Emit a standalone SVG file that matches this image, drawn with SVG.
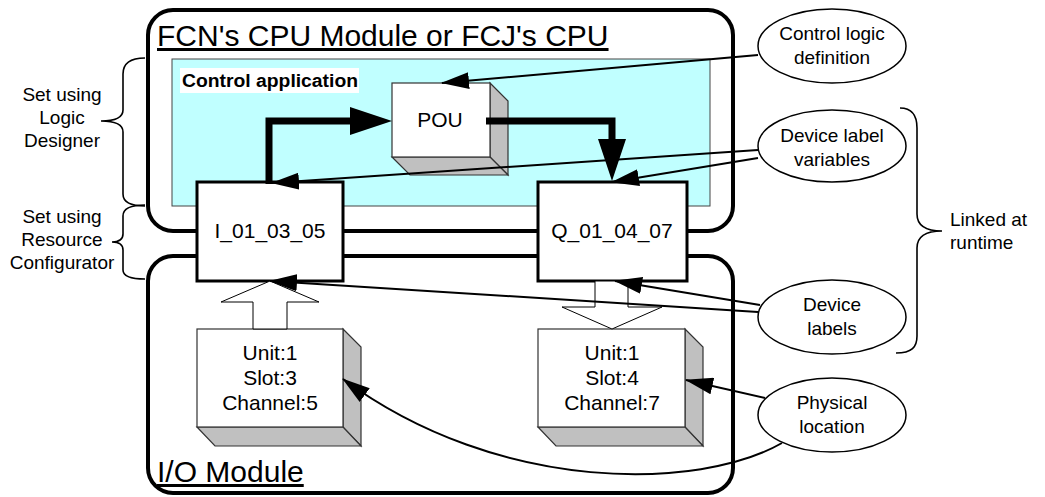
<svg xmlns="http://www.w3.org/2000/svg" width="1045" height="497" viewBox="0 0 1045 497">
<style>
text{font-family:"Liberation Sans",Arial,sans-serif;fill:#000}
.t19{font-size:19px}
.t21{font-size:21px}
.mid{text-anchor:middle}
.module{fill:none;stroke:#000;stroke-width:4}
.box{fill:#fff;stroke:#000;stroke-width:3}
.front{fill:#fff;stroke:#333;stroke-width:1.2}
.shade{fill:#c0c0c0;stroke:#333;stroke-width:1.2}
.ell{fill:#fff;stroke:#000;stroke-width:1.5}
.thin{fill:none;stroke:#000;stroke-width:2;marker-end:url(#ah)}
.thick{fill:none;stroke:#000;stroke-width:7;stroke-linejoin:miter;marker-end:url(#bh)}
.hollow{fill:#fff;stroke:#000;stroke-width:1}
.brace{fill:none;stroke:#000;stroke-width:1.6}
</style>
<defs>
<marker id="ah" markerUnits="userSpaceOnUse" viewBox="0 0 28 17" markerWidth="28" markerHeight="17" refX="27" refY="8.5" orient="auto"><path d="M0,0 L28,8.5 L0,17 z" fill="#000"/></marker>
<marker id="bh" markerUnits="userSpaceOnUse" viewBox="0 0 42 28" markerWidth="42" markerHeight="28" refX="0" refY="14" orient="auto"><path d="M0,0 L42,14 L0,28 z" fill="#000"/></marker>
</defs>

<g id="cpu-module">
<rect class="module" x="148" y="10" width="585" height="221" rx="25"/>
<text x="157" y="46" style="font-size:30px;text-decoration:underline">FCN's CPU Module or FCJ's CPU</text>
</g>
<g id="io-module">
<rect class="module" x="148" y="256" width="585" height="237" rx="25"/>
<text x="157" y="482" style="font-size:30px;text-decoration:underline">I/O Module</text>
</g>
<g id="control-application">
<rect x="172" y="59" width="538" height="147" fill="#c0ffff" stroke="#444" stroke-width="1"/>
<rect x="180" y="68" width="179" height="25" fill="#fff"/>
<text x="182" y="87" style="font-size:18px;font-weight:bold" textLength="176" lengthAdjust="spacingAndGlyphs">Control application</text>
</g>
<g id="pou">
<polygon class="shade" points="490,83 508,101 508,175 490,157"/>
<polygon class="shade" points="392,157 490,157 508,175 410,175"/>
<rect class="front" x="392" y="83" width="98" height="74"/>
<text class="t21 mid" x="440" y="127">POU</text>
</g>
<g id="i-label">
<rect class="box" x="197" y="182" width="146" height="99"/>
<text class="t21 mid" x="270" y="238">I_01_03_05</text>
</g>
<g id="q-label">
<rect class="box" x="538" y="182" width="149" height="99"/>
<text class="t21 mid" x="612" y="238">Q_01_04_07</text>
</g>
<g id="unit-slot3">
<polygon class="shade" points="343,329 361,347 361,446 343,427"/>
<polygon class="shade" points="197,427 343,427 361,446 215,446"/>
<rect class="front" x="197" y="329" width="146" height="98"/>
<text class="t21 mid" x="270" y="360">Unit:1</text>
<text class="t21 mid" x="270" y="385">Slot:3</text>
<text class="t21 mid" x="270" y="410">Channel:5</text>
</g>
<g id="unit-slot4">
<polygon class="shade" points="685,329 703,347 703,446 685,427"/>
<polygon class="shade" points="538,427 685,427 703,446 556,446"/>
<rect class="front" x="538" y="329" width="147" height="98"/>
<text class="t21 mid" x="612" y="360">Unit:1</text>
<text class="t21 mid" x="612" y="385">Slot:4</text>
<text class="t21 mid" x="612" y="410">Channel:7</text>
</g>
<g id="control-logic-definition">
<ellipse class="ell" cx="832" cy="46" rx="74" ry="37"/>
<text class="t19 mid" x="832" y="40">Control logic</text>
<text class="t19 mid" x="832" y="64">definition</text>
</g>
<g id="device-label-variables">
<ellipse class="ell" cx="832" cy="146" rx="74" ry="36"/>
<text class="t19 mid" x="832" y="142">Device label</text>
<text class="t19 mid" x="832" y="166">variables</text>
</g>
<g id="device-labels">
<ellipse class="ell" cx="832" cy="317" rx="74" ry="37"/>
<text class="t19 mid" x="832" y="311">Device</text>
<text class="t19 mid" x="832" y="335">labels</text>
</g>
<g id="physical-location">
<ellipse class="ell" cx="832" cy="415" rx="74" ry="37"/>
<text class="t19 mid" x="832" y="409">Physical</text>
<text class="t19 mid" x="832" y="433">location</text>
</g>
<g id="set-logic-designer">
<path class="brace" d="M145,58 C130,58 123,63 123,74 L123,110 Q123,121 101,121 Q123,121 123,132 L123,194 C123,202 130,206 145,206"/>
<text class="t19 mid" x="62" y="101">Set using</text>
<text class="t19 mid" x="62" y="124">Logic</text>
<text class="t19 mid" x="62" y="147">Designer</text>
</g>
<g id="set-resource-configurator">
<path class="brace" d="M145,205 C130,205 123,209 123,216 L123,234 Q123,242 112,242 Q123,242 123,250 L123,270 C123,276 130,279 145,279"/>
<text class="t19 mid" x="62" y="223">Set using</text>
<text class="t19 mid" x="62" y="246">Resource</text>
<text class="t19 mid" x="62" y="269">Configurator</text>
</g>
<g id="linked-at-runtime">
<path class="brace" d="M900,108 C912,108 917,115 917,128 L917,214 Q917,231 942,231 Q917,231 917,248 L917,336 C917,347 912,353 896,353"/>
<text class="t19" x="950" y="226">Linked at</text>
<text class="t19" x="950" y="249">runtime</text>
</g>

<g id="connectors">
<polygon class="hollow" points="253,329 253,302 221,302 270,281 319,302 287,302 287,329"/>
<polygon class="hollow" points="595,281 595,307 562,307 612,329 662,307 628,307 628,281"/>
<path class="thick" d="M269,184 L269,121 L350,121"/>
<path class="thick" d="M486,121 L612,121 L612,139"/>
<path class="thin" d="M758,55 L442,83"/>
<path class="thin" d="M758,150 L272,183"/>
<path class="thin" d="M758,158 L612,182"/>
<path class="thin" d="M758,312 L270,281"/>
<path class="thin" d="M760,305 L615,281"/>
<path class="thin" d="M765,398 L686,380"/>
<path class="thin" d="M782,443 C700,490 500,495 343,379"/>
</g>
</svg>
